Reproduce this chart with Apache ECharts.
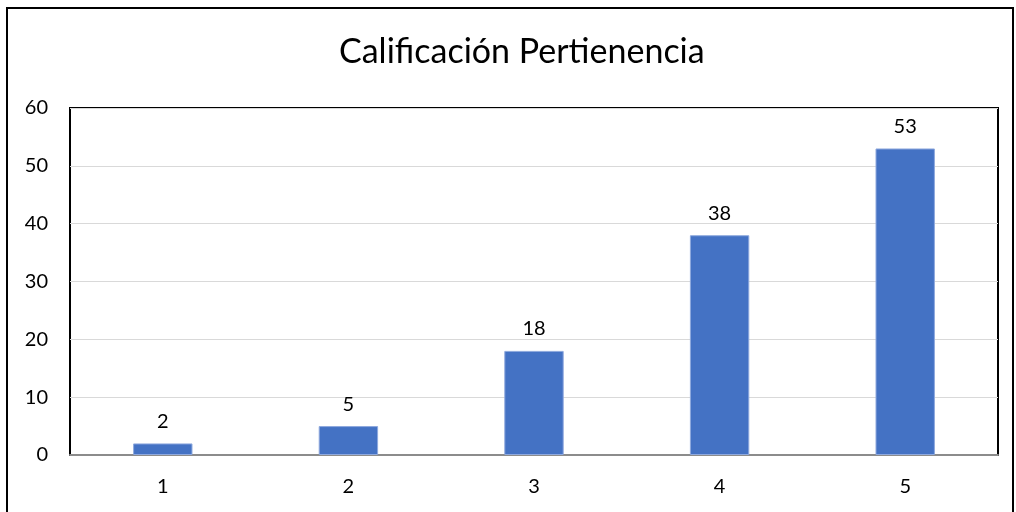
<!DOCTYPE html>
<html>
<head>
<meta charset="utf-8">
<script src="https://cdn.jsdelivr.net/npm/echarts@6/dist/echarts.min.js"></script>
<style>
  html, body { margin: 0; padding: 0; background: #fff; }
  #chart { width: 1016px; height: 512px; }
</style>
</head>
<body>
<div id="chart"></div>
<script>
const categories = ["1", "2", "3", "4", "5"];
const counts = [2, 5, 18, 38, 53];
const titleText = "Calificación Pertienencia";

const chart = echarts.init(document.getElementById("chart"));
chart.setOption({
  animation: false,
  textStyle: { fontFamily: "Lato" },
  title: {
    text: titleText,
    left: 334,
    top: 30,
    textStyle: { fontSize: 34, fontWeight: "normal", color: "#000", fontFamily: "Lato" }
  },
  graphic: [{
    type: "rect",
    shape: { x: 7, y: 8, width: 1006, height: 520 },
    style: { fill: "none", stroke: "#000", lineWidth: 2 },
    silent: true
  }],
  grid: {
    left: 70, right: 18, top: 108, bottom: 57,
    show: true, borderColor: "#000", borderWidth: 2, backgroundColor: "transparent"
  },
  xAxis: {
    type: "category",
    data: categories,
    axisTick: { show: false },
    axisLine: { lineStyle: { color: "#8c8c8c", width: 2 } },
    axisLabel: { color: "#000", fontSize: 20, margin: 22 }
  },
  yAxis: {
    type: "value",
    min: 0, max: 60, interval: 10,
    axisLine: { show: false },
    axisTick: { show: false },
    splitLine: { lineStyle: { color: "#d9d9d9", width: 1 } },
    axisLabel: { color: "#000", fontSize: 20, margin: 22 }
  },
  series: [{
    type: "bar",
    data: counts,
    barWidth: "32%",
    itemStyle: { color: "#4472C4", borderColor: "#8fa9de", borderWidth: 1 },
    label: { show: true, position: "top", distance: 12, color: "#000", fontSize: 20 }
  }]
});
</script>
</body>
</html>
